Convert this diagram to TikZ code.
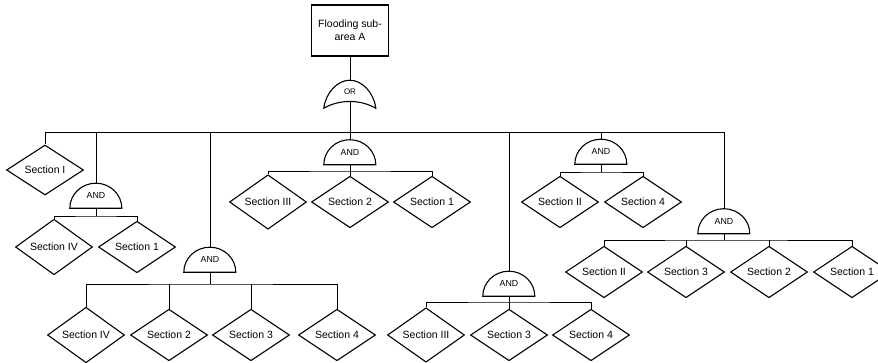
\documentclass[tikz,border=0pt]{standalone}
\usepackage{fontspec}
\setmainfont{Liberation Sans}
\usetikzlibrary{shapes.geometric}
\tikzset{
  secbox/.style={diamond, draw, line width=1.1pt, minimum width=77pt, minimum height=50pt, inner sep=0pt, font=\fontsize{10.5}{12}\selectfont},
  gatebox/.style={minimum width=52pt, minimum height=25pt, inner sep=0pt, font=\fontsize{8.8}{10}\selectfont},
  orbox/.style={minimum width=52pt, minimum height=32pt, inner sep=0pt, font=\fontsize{8}{9}\selectfont},
  topbox/.style={draw, line width=1.1pt, minimum width=77pt, minimum height=51pt, inner sep=1pt, align=center, font=\fontsize{10.5}{13}\selectfont},
  conn/.style={line width=1pt},
  gateline/.style={line width=1.1pt}
}
\newcommand\andgate[1]{\draw[gateline] (#1.south west) arc[start angle=180, end angle=0, x radius=26pt, y radius=25pt] -- cycle;}
\begin{document}
\begin{tikzpicture}[x=1pt,y=1pt]
\useasboundingbox (0,0) rectangle (878,-362);
% top event
\node[topbox] (top) at (350,-30.5) {Flooding sub-\\area A};
\node[orbox] (orr) at (350,-92) {OR};
\coordinate (mL) at (45,-132);
\coordinate (mR) at (724,-132);
\draw[conn] (top.south) -- ([yshift=28pt]orr.south);
\draw[conn] ([yshift=6.75pt]orr.south) -- (orr.south |- mL);
\draw[gateline] (orr.south west) .. controls ++(2,16) and ++(-12,0) .. ++(26,28)
  .. controls ++(12,0) and ++(-2,16) .. ++(26,-28)
  .. controls ++(-16,9) and ++(16,9) .. (orr.south west) -- cycle;
\draw[conn] (mL) -- (mR);
% Section I
\node[secbox] (d0) at (45,-170) {Section I};
\draw[conn] (mL) -- (d0.north);
% gates
\node[gatebox] (g1) at (96,-195.5) {AND};
\node[gatebox] (g2) at (210,-259.5) {AND};
\node[gatebox] (g3) at (350,-152) {AND};
\node[gatebox] (g4) at (509,-283.5) {AND};
\node[gatebox] (g5) at (601,-151.5) {AND};
\node[gatebox] (g6) at (724,-221) {AND};
\andgate{g1}\andgate{g2}\andgate{g3}\andgate{g4}\andgate{g5}\andgate{g6}
\foreach \g in {g1,g2,g3,g4,g5,g6}{\draw[conn] (\g.north |- mL) -- (\g.north);}
% g1 children
\node[secbox] (d11) at (54,-247) {Section IV};
\node[secbox] (d12) at (137,-247) {Section 1};
\coordinate (b1) at (96,-216);
\draw[conn] (g1.south) -- (b1);
\draw[conn] (d11.north) |- (b1) -| (d12.north);
% g2 children
\node[secbox] (d21) at (86,-335) {Section IV};
\node[secbox] (d22) at (169,-335) {Section 2};
\node[secbox] (d23) at (251,-335) {Section 3};
\node[secbox] (d24) at (337,-335) {Section 4};
\coordinate (b2) at (210,-284);
\draw[conn] (g2.south) -- (b2);
\draw[conn] (d21.north) |- (b2) -| (d24.north);
\draw[conn] (d22.north) -- (d22.north |- b2);
\draw[conn] (d23.north) -- (d23.north |- b2);
% g3 children
\node[secbox] (d31) at (268,-202) {Section III};
\node[secbox] (d32) at (350,-202) {Section 2};
\node[secbox] (d33) at (432,-202) {Section 1};
\coordinate (b3) at (350,-171);
\draw[conn] (g3.south) -- (d32.north);
\draw[conn] (d31.north) |- (b3) -| (d33.north);
% g4 children
\node[secbox] (d41) at (426,-335) {Section III};
\node[secbox] (d42) at (509,-335) {Section 3};
\node[secbox] (d43) at (591,-335) {Section 4};
\coordinate (b4) at (509,-302);
\draw[conn] (g4.south) -- (d42.north);
\draw[conn] (d41.north) |- (b4) -| (d43.north);
% g5 children
\node[secbox] (d51) at (560,-202) {Section II};
\node[secbox] (d52) at (643,-202) {Section 4};
\coordinate (b5) at (601,-172);
\draw[conn] (g5.south) -- (b5);
\draw[conn] (d51.north) |- (b5) -| (d52.north);
% g6 children
\node[secbox] (d61) at (604,-272) {Section II};
\node[secbox] (d62) at (686,-272) {Section 3};
\node[secbox] (d63) at (769,-272) {Section 2};
\node[secbox] (d64) at (852,-272) {Section 1};
\coordinate (b6) at (724,-240);
\draw[conn] (g6.south) -- (b6);
\draw[conn] (d61.north) |- (b6) -| (d64.north);
\draw[conn] (d62.north) -- (d62.north |- b6);
\draw[conn] (d63.north) -- (d63.north |- b6);
\end{tikzpicture}
\end{document}
